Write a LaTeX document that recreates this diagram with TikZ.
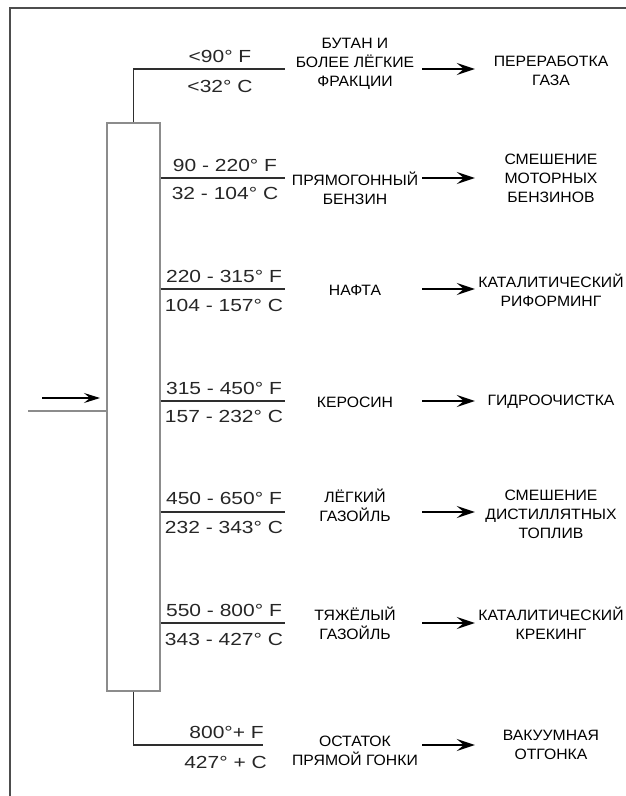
\documentclass[tikz,border=0pt]{standalone}
\usepackage{fontspec}
\setmainfont{Liberation Sans}[FakeStretch=1.05]
\newfontfamily\tempfont{Liberation Sans}[FakeStretch=1.2]
\usepackage{tikz}
\usetikzlibrary{arrows.meta, positioning, calc}
\definecolor{cgray}{HTML}{8C8C8C}
\definecolor{lgray}{HTML}{2E2E2E}
\tikzset{
  column/.style={rectangle, draw=cgray, line width=1.4pt, minimum width=53pt, minimum height=568pt, inner sep=0pt},
  frame/.style ={draw=lgray!85, line width=2.2pt},
  pipe/.style  ={draw=lgray, line width=1.5pt},
  frac/.style  ={minimum width=134pt, inner sep=0pt, align=center, font=\fontsize{15}{19}\selectfont},
  dest/.style  ={minimum width=152pt, inner sep=0pt, align=center, font=\fontsize{15}{19}\selectfont},
  temp/.style  ={inner sep=0pt, text=black!85, font=\tempfont\fontsize{17.5}{18}\selectfont},
  flow/.style  ={-{Stealth[length=18pt, width=12pt, inset=7pt]}, line width=2.2pt},
  feedarrow/.style={-{Stealth[length=16pt, width=10pt, inset=6pt]}, line width=1.1pt},
}
\begin{document}
\begin{tikzpicture}[x=1pt, y=-1pt]
  \useasboundingbox (0,0) rectangle (625,796);
  \draw[frame] (10,800) -- (10,8) -- (630,8);
  % column and feed
  \node[column] (col) at (133.5,407) {};
  \coordinate (feed) at (28,411);
  \coordinate (fa) at (42,398);
  \draw[draw=cgray, line width=1.4pt] (feed) -- (feed -| col.west);
  \draw[feedarrow] (fa) -- ++(58,0);
  % draw-off points
  \coordinate (r0) at (285,69);
  \coordinate (r1) at (285,178);
  \coordinate (r2) at (285,289);
  \coordinate (r3) at (285,401);
  \coordinate (r4) at (285,512);
  \coordinate (r5) at (285,623);
  \coordinate (r6) at (263,745);
  \draw[pipe] (col.north) |- (r0);
  \draw[pipe] (col.east |- r1) -- (r1);
  \draw[pipe] (col.east |- r2) -- (r2);
  \draw[pipe] (col.east |- r3) -- (r3);
  \draw[pipe] (col.east |- r4) -- (r4);
  \draw[pipe] (col.east |- r5) -- (r5);
  \draw[pipe] (col.south) |- (r6);
  % temperatures
  \node[temp] (f0) at (220,56)  {<90° F};
  \node[temp] (c0) at (220,86)  {<32° C};
  \node[temp] (f1) at (225,165) {90 - 220° F};
  \node[temp] (c1) at (225,193) {32 - 104° C};
  \node[temp] (f2) at (224,276) {220 - 315° F};
  \node[temp] (c2) at (224,305) {104 - 157° C};
  \node[temp] (f3) at (224,388) {315 - 450° F};
  \node[temp] (c3) at (224,416) {157 - 232° C};
  \node[temp] (f4) at (224,498) {450 - 650° F};
  \node[temp] (c4) at (224,527) {232 - 343° C};
  \node[temp] (f5) at (224,610) {550 - 800° F};
  \node[temp] (c5) at (224,639) {343 - 427° C};
  \node[temp, anchor=east] (f6) at (264,732) {800°+ F};
  \node[temp, anchor=east] (c6) at (267,762) {427° + C};
  % fractions
  \node[frac] (m0) at (355,64)  {БУТАН И\\БОЛЕЕ ЛЁГКИЕ\\ФРАКЦИИ};
  \node[frac] (m1) at (355,188) {ПРЯМОГОННЫЙ\\БЕНЗИН};
  \node[frac] (m2) at (355,290) {НАФТА};
  \node[frac] (m3) at (355,402) {КЕРОСИН};
  \node[frac] (m4) at (355,505) {ЛЁГКИЙ\\ГАЗОЙЛЬ};
  \node[frac] (m5) at (355,623) {ТЯЖЁЛЫЙ\\ГАЗОЙЛЬ};
  \node[frac] (m6) at (355,751) {ОСТАТОК\\ПРЯМОЙ ГОНКИ};
  % processing
  \node[dest] (d0) at (551,71)  {ПЕРЕРАБОТКА\\ГАЗА};
  \node[dest] (d1) at (551,178) {СМЕШЕНИЕ\\МОТОРНЫХ\\БЕНЗИНОВ};
  \node[dest] (d2) at (551,290) {КАТАЛИТИЧЕСКИЙ\\РИФОРМИНГ};
  \node[dest] (d3) at (551,402) {ГИДРООЧИСТКА};
  \node[dest] (d4) at (551,514) {СМЕШЕНИЕ\\ДИСТИЛЛЯТНЫХ\\ТОПЛИВ};
  \node[dest] (d5) at (551,623) {КАТАЛИТИЧЕСКИЙ\\КРЕКИНГ};
  \node[dest] (d6) at (551,745) {ВАКУУМНАЯ\\ОТГОНКА};
  \draw[flow] (m0.east |- r0) -- (d0.west |- r0);
  \draw[flow] (m1.east |- r1) -- (d1.west |- r1);
  \draw[flow] (m2.east |- r2) -- (d2.west |- r2);
  \draw[flow] (m3.east |- r3) -- (d3.west |- r3);
  \draw[flow] (m4.east |- r4) -- (d4.west |- r4);
  \draw[flow] (m5.east |- r5) -- (d5.west |- r5);
  \draw[flow] (m6.east |- r6) -- (d6.west |- r6);
\end{tikzpicture}
\end{document}
